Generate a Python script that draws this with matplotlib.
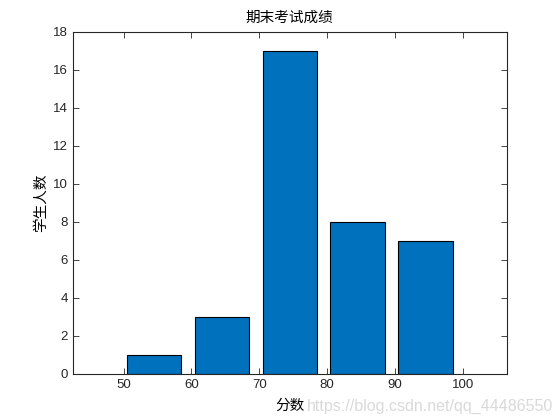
import matplotlib
matplotlib.use("Agg")
import matplotlib.pyplot as plt

plt.rcParams['font.family'] = ['Liberation Sans', 'Noto Sans CJK SC', 'DejaVu Sans']

# bin centres and student counts
centers = [54.5, 64.5, 74.5, 84.5, 94.5]
counts = [1, 3, 17, 8, 7]

fig = plt.figure(figsize=(5.6, 4.2), dpi=100)
ax = fig.add_axes([0.13, 0.11, 0.775, 0.815])

ax.bar(centers, counts, width=8, color='#0072BD', edgecolor='black', linewidth=0.8)

ax.set_xlim(42.5, 106.5)
ax.set_ylim(0, 18)
ax.set_xticks([50, 60, 70, 80, 90, 100])
ax.set_yticks(range(0, 19, 2))
ax.tick_params(direction='in', top=True, right=True, labelsize=9.5, length=4, width=0.6, colors='#262626')
for s in ax.spines.values():
    s.set_linewidth(0.8)
    s.set_color('#262626')

cjk = ['Noto Sans CJK SC', 'DejaVu Sans']
ax.set_title('期末考试成绩', family=cjk, fontsize=10.5, pad=7, fontweight='light')
ax.set_xlabel('分数', family=cjk, fontsize=10.5, labelpad=6, fontweight='light')
ax.set_ylabel('学生人数', family=cjk, fontsize=10.5, labelpad=4, fontweight='light')

fig.text(0.548, 0.022, 'https://blog.csdn.net/qq_44486550', color='#d9d9d9', fontsize=11.5)

fig.savefig('out.png', dpi=100)
